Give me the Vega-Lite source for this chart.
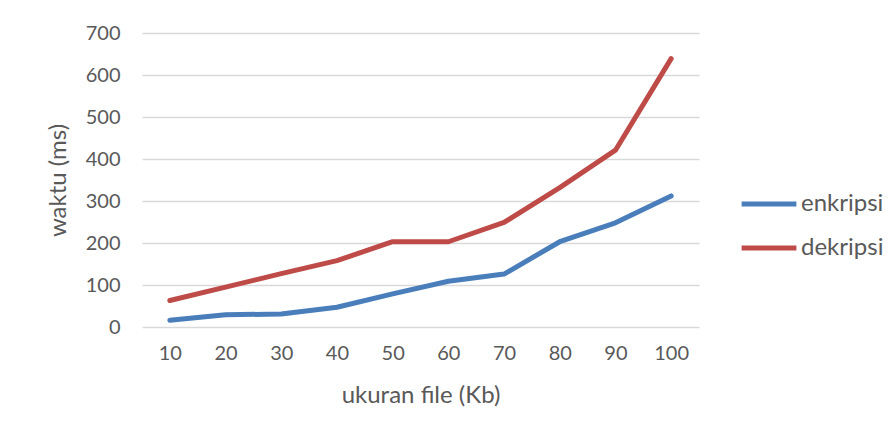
{
  "$schema": "https://vega.github.io/schema/vega-lite/v6.json",
  "autosize": {"type": "none"},
  "width": 557,
  "height": 294,
  "padding": {"left": 142, "top": 33, "right": 191, "bottom": 116},
  "background": "white",
  "data": {"values": [
    {"size": "10", "series": "enkripsi", "ms": 16},
    {"size": "20", "series": "enkripsi", "ms": 29},
    {"size": "30", "series": "enkripsi", "ms": 31},
    {"size": "40", "series": "enkripsi", "ms": 47},
    {"size": "50", "series": "enkripsi", "ms": 79},
    {"size": "60", "series": "enkripsi", "ms": 109},
    {"size": "70", "series": "enkripsi", "ms": 126},
    {"size": "80", "series": "enkripsi", "ms": 203},
    {"size": "90", "series": "enkripsi", "ms": 248},
    {"size": "100", "series": "enkripsi", "ms": 312},
    {"size": "10", "series": "dekripsi", "ms": 63},
    {"size": "20", "series": "dekripsi", "ms": 95},
    {"size": "30", "series": "dekripsi", "ms": 127},
    {"size": "40", "series": "dekripsi", "ms": 158},
    {"size": "50", "series": "dekripsi", "ms": 203},
    {"size": "60", "series": "dekripsi", "ms": 203},
    {"size": "70", "series": "dekripsi", "ms": 249},
    {"size": "80", "series": "dekripsi", "ms": 332},
    {"size": "90", "series": "dekripsi", "ms": 421},
    {"size": "100", "series": "dekripsi", "ms": 639}
  ]},
  "mark": {"type": "line", "strokeWidth": 5, "strokeCap": "round", "strokeJoin": "round"},
  "encoding": {
    "x": {
      "field": "size", "type": "ordinal", "sort": null,
      "scale": {"type": "point", "padding": 0.5},
      "axis": {"title": "ukuran file (Kb)", "labelAngle": 0, "ticks": false, "domain": false, "grid": false,
               "labelPadding": 16, "titlePadding": 20}
    },
    "y": {
      "field": "ms", "type": "quantitative",
      "scale": {"domain": [0, 700], "nice": false},
      "axis": {"title": "waktu (ms)", "values": [0,100,200,300,400,500,600,700], "ticks": false, "domain": false,
               "labelPadding": 22, "titleX": -84, "titleY": 147, "titleAngle": -90, "titleAlign": "center", "titleBaseline": "middle"}
    },
    "color": {
      "field": "series", "type": "nominal",
      "scale": {"domain": ["enkripsi", "dekripsi"], "range": ["#4a7ebb", "#be4b48"]},
      "legend": {"title": null, "orient": "none", "legendX": 597, "legendY": 141,
                 "symbolType": "stroke", "symbolSize": 3000, "symbolStrokeWidth": 5,
                 "rowPadding": 2, "labelOffset": 2}
    }
  },
  "config": {
    "font": "Lato",
    "view": {"stroke": null},
    "axis": {
      "labelFont": "Lato", "labelFontSize": 20, "labelColor": "#595959",
      "titleFont": "Lato", "titleFontSize": 24, "titleColor": "#595959", "titleFontWeight": "normal",
      "gridColor": "#d9d9d9", "gridWidth": 1.5
    },
    "legend": {"labelFont": "Lato", "labelFontSize": 24, "labelColor": "#595959"}
  }
}
